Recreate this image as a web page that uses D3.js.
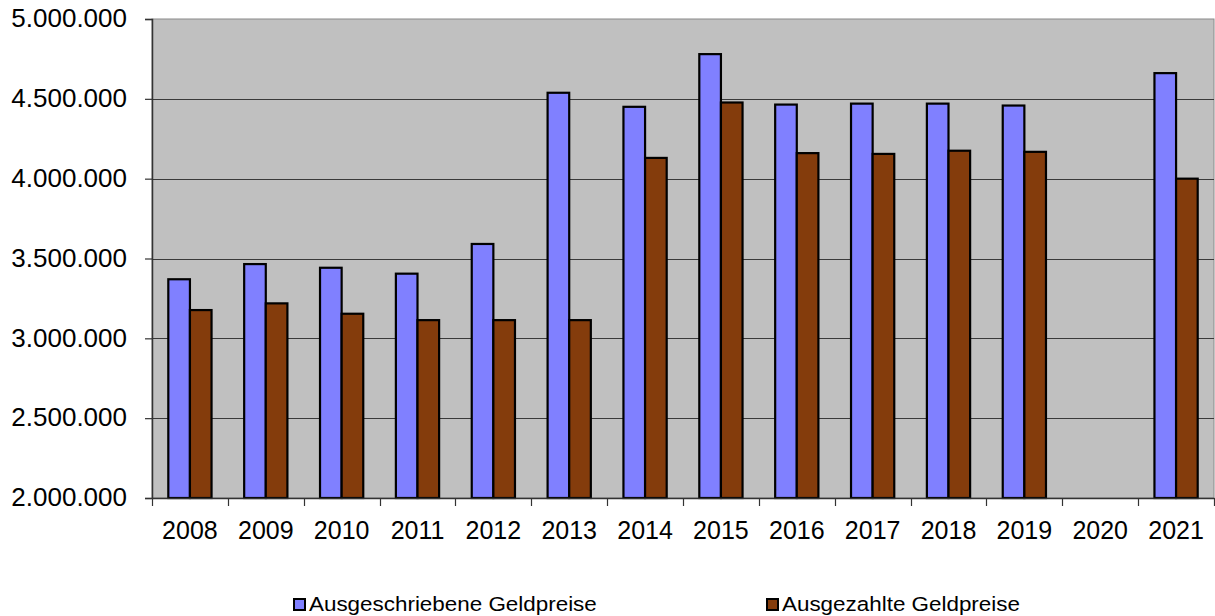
<!DOCTYPE html>
<html>
<head>
<meta charset="utf-8">
<script src="https://cdn.jsdelivr.net/npm/d3@7"></script>
<style>
  body { margin: 0; background: #fff; }
  svg text { font-family: "Liberation Sans", Arial, sans-serif; fill: #000; }
</style>
</head>
<body>
<script>
// chart data
var years = ["2008", "2009", "2010", "2011", "2012", "2013", "2014", "2015", "2016", "2017", "2018", "2019", "2020", "2021"];
var ausgeschrieben = [3370000, 3465000, 3442000, 3405000, 3591000, 4538000, 4450000, 4780000, 4464000, 4470000, 4470000, 4458000, 0, 4661000];
var ausgezahlt = [3177000, 3219000, 3154000, 3114000, 3114000, 3114000, 4130000, 4477000, 4160000, 4155000, 4175000, 4168000, 0, 4000000];
var seriesNames = ["Ausgeschriebene Geldpreise", "Ausgezahlte Geldpreise"];
var yTicks = [2000000, 2500000, 3000000, 3500000, 4000000, 4500000, 5000000];

drawChart();

function drawChart(){

    //frame and plot area
    var width = 1215, height = 616;
    var plotLeft = 152, plotRight = 1214, plotTop = 19, plotBottom = 498;

    var svg = d3.select("body").append("svg")
        .attr("width", width)
        .attr("height", height);

    var x = d3.scaleBand()
        .domain(years)
        .range([plotLeft, plotRight])
        .paddingInner(0.43)
        .paddingOuter(0.215);

    var xBand = d3.scaleBand()
        .domain(years)
        .range([plotLeft, plotRight]);

    var y = d3.scaleLinear()
        .domain([2000000, 5000000])
        .range([plotBottom, plotTop])
        .clamp(true);

    var inner = d3.scaleBand()
        .domain([0, 1])
        .range([0, x.bandwidth()]);

    var fmt = function(v){ return d3.format(",")(v).replace(/,/g, "."); };

    //plot background
    svg.append("rect")
        .attr("x", plotLeft).attr("y", plotTop)
        .attr("width", plotRight - plotLeft).attr("height", plotBottom - plotTop)
        .attr("fill", "#c0c0c0")
        .attr("stroke", "#8a8a8a")
        .attr("stroke-width", 1);

    //gridlines
    svg.selectAll(".grid")
        .data(yTicks.slice(1, -1))
        .enter().append("line")
        .attr("x1", plotLeft).attr("x2", plotRight)
        .attr("y1", function(d){ return Math.round(y(d)) + 0.5; })
        .attr("y2", function(d){ return Math.round(y(d)) + 0.5; })
        .attr("stroke", "#3a3a3a")
        .attr("stroke-width", 1.2);

    //y axis
    var yAxis = svg.append("g")
        .attr("transform", "translate(" + plotLeft + ",0)")
        .call(d3.axisLeft(y).tickValues(yTicks).tickFormat(fmt).tickSize(7).tickPadding(18));
    yAxis.select(".domain").attr("stroke", "#333").attr("stroke-width", 1.5);
    yAxis.selectAll(".tick line").attr("stroke", "#333").attr("stroke-width", 1.2);
    yAxis.selectAll(".tick text")
        .style("font-size", "26px")
        .style("font-family", "'Liberation Sans', Arial, sans-serif")
        .attr("dy", "0.3em")
        .attr("fill", "#000");

    //bars
    var data = [ausgeschrieben, ausgezahlt];
    var colors = ["#8080ff", "#843c0c"];
    data.forEach(function(vals, s){
        svg.selectAll(".bar" + s)
            .data(vals)
            .enter().append("rect")
            .attr("class", "bar" + s)
            .attr("x", function(d, i){ return x(years[i]) + inner(s); })
            .attr("y", function(d){ return y(d); })
            .attr("width", inner.bandwidth())
            .attr("height", function(d){ return plotBottom - y(d); })
            .attr("fill", colors[s])
            .attr("stroke", "#000")
            .attr("stroke-width", 2.2);
    });

    //x axis
    var xAxis = svg.append("g")
        .attr("transform", "translate(0," + plotBottom + ")")
        .call(d3.axisBottom(xBand).tickSize(0).tickPadding(23));
    xAxis.select(".domain").attr("stroke", "#333").attr("stroke-width", 1.5);
    xAxis.selectAll(".tick text")
        .style("font-size", "25px")
        .style("font-family", "'Liberation Sans', Arial, sans-serif")
        .attr("fill", "#000");

    //ticks at band boundaries
    var bounds = years.map(function(d){ return xBand(d); }).concat([plotRight]);
    svg.selectAll(".xtick")
        .data(bounds)
        .enter().append("line")
        .attr("x1", function(d){ return Math.round(d) + 0.5; })
        .attr("x2", function(d){ return Math.round(d) + 0.5; })
        .attr("y1", plotBottom).attr("y2", plotBottom + 8)
        .attr("stroke", "#333")
        .attr("stroke-width", 1.2);

    //legend
    var legendX = [294, 767];
    seriesNames.forEach(function(name, s){
        svg.append("rect")
            .attr("x", legendX[s]).attr("y", 599)
            .attr("width", 11).attr("height", 11)
            .attr("fill", colors[s])
            .attr("stroke", "#000")
            .attr("stroke-width", 2);
        svg.append("text")
            .attr("transform", "translate(" + (legendX[s] + 15) + ",611) scale(1.15,1)")
            .style("font-size", "19.5px")
            .text(name);
    });
};
</script>
</body>
</html>
